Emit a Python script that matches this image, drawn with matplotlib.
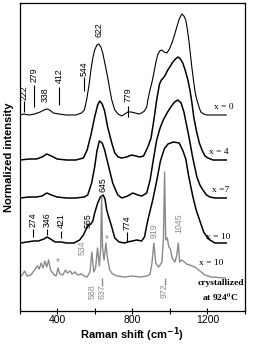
import matplotlib
matplotlib.use('Agg')
import matplotlib.pyplot as plt

BLACK = '#000000'
GRAY = '#8a8a8a'

plt.rcParams.update({
    'font.family': 'Liberation Sans',
    'font.size': 7.5,
    'axes.linewidth': 0.9,
})

# spectra: wavenumber (cm-1) and intensity, plus vertical offsets
wn0 = [205, 222, 250, 280, 310, 330, 345, 360, 380, 410, 450, 500, 530, 545, 557, 570, 580, 590, 600, 612,
       622, 633, 643, 655, 669, 680, 691, 707, 725, 744, 760, 776, 795, 815, 835, 850, 865, 877, 883, 893,
       904, 915, 925, 935, 946, 957, 970, 984, 998, 1011, 1025, 1037, 1050, 1064, 1075, 1085, 1093, 1101, 1110, 1117,
       1125, 1133, 1141, 1149, 1157, 1165, 1180, 1197, 1230, 1260, 1300]
int0 = [0, 1, 0, 1, 3, 5, 6, 5, 2, 1, 0, 0, 2, 5, 15, 30, 45, 57, 65, 70,
        71, 68, 62, 51, 38, 26, 15, 5, 1, -1, 1, 3, 3, 2, 1, 2, 4, 8, 15, 24,
        32, 42, 52, 60, 64, 65, 63, 62, 66, 72, 80, 88, 96, 101, 99, 95, 86, 75, 60, 48,
        36, 25, 17, 12, 7, 3, 1, 0, 0, 0, 0]

wn4 = [205, 250, 290, 320, 345, 370, 400, 450, 500, 540, 560, 580, 600, 616, 627, 640, 653, 669, 691, 707,
       725, 744, 770, 797, 820, 840, 860, 883, 900, 915, 930, 945, 955, 965, 976, 989, 1003, 1016, 1030, 1043,
       1056, 1069, 1083, 1096, 1107, 1117, 1128, 1144, 1157, 1171, 1187, 1203, 1230, 1300]
int4 = [0, 1, 1, 3, 6, 4, 1, 0, 0, 2, 10, 25, 43, 55, 59, 56, 49, 33, 17, 7,
        3, 2, 3, 5, 4, 3, 4, 13, 22, 40, 60, 76, 80, 82, 85, 90, 94, 98, 101, 103,
        101, 97, 89, 80, 70, 58, 42, 27, 17, 10, 4, 2, 0, 0]

wn7 = [205, 250, 290, 320, 345, 370, 400, 450, 500, 545, 563, 584, 600, 612, 625, 640, 653, 675, 696, 723,
       745, 775, 803, 830, 851, 877, 895, 912, 930, 948, 965, 985, 1005, 1025, 1043, 1060, 1075, 1090, 1105, 1120,
       1144, 1160, 1176, 1195, 1213, 1240, 1300]
int7 = [0, 1, 1, 2, 5, 3, 1, 0, 0, 1, 3, 15, 31, 47, 57, 55, 48, 31, 15, 3,
        0, 2, 5, 3, 2, 5, 18, 38, 58, 70, 78, 85, 91, 96, 98, 95, 86, 72, 58, 42,
        21, 13, 8, 3, 1, 0, 0]

wn10 = [205, 240, 274, 300, 330, 346, 365, 390, 421, 450, 490, 520, 540, 555, 568, 580, 590, 600, 616, 630,
        645, 655, 664, 678, 691, 707, 730, 760, 774, 800, 824, 850, 865, 883, 909, 930, 950, 970, 990, 1020,
        1050, 1070, 1085, 1100, 1123, 1140, 1160, 1180, 1205, 1240, 1300]
int10 = [0, 1, 2, 2, 4, 6, 4, 1, 1, 0, 0, 3, 8, 14, 18, 19, 22, 30, 40, 46,
         48, 44, 33, 24, 16, 5, 1, 0, 1, 2, 3, 2, 6, 23, 43, 62, 82, 94, 99, 101,
         100, 92, 84, 67, 46, 33, 22, 11, 4, 0, 0]

wn_cr = [205, 218, 227, 240, 260, 280, 295, 305, 315, 325, 335, 345, 355, 365, 380, 395, 405, 415, 430, 445,
         455, 470, 480, 495, 510, 530, 545, 560, 575, 585, 595, 605, 615, 625, 632, 637, 642, 650, 660, 668,
         680, 695, 720, 760, 800, 840, 880, 895, 905, 915, 925, 940, 948, 958, 966, 972, 978, 986, 995, 1003,
         1012, 1027, 1036, 1045, 1052, 1064, 1090, 1133, 1160, 1187, 1220, 1295]
int_cr = [1, 4, 7, 2, 3, 8, 12, 9, 15, 10, 17, 11, 18, 8, 4, 2, 10, 4, 3, 8,
          5, 7, 4, 6, 3, 4, 2, 1, 6, 26, 6, 10, 30, 12, 30, 81, 30, 18, 35, 20,
          8, 4, 2, 1, 2, 1, 2, 4, 15, 35, 15, 11, 13, 16, 40, 106, 38, 40, 31, 29,
          20, 16, 22, 35, 16, 18, 14, 11, 7, 3, 1, 0]

offsets = [196, 151, 113, 68]
series_names = ['x = 0', 'x = 4', 'x =7', 'x = 10']
offset_cr = 33

# peak labels (value, text height)
top_peaks = [222, 279, 338, 412, 544, 622, 779]
top_text_y = [211, 229, 209, 228, 235, 274, 209]
top_ticks = [222, 279, 412, 544, 779]
top_tick_lo = [199, 204, 206, 220, 194]
top_tick_hi = [210, 226, 224, 234, 205]

bot_peaks = [274, 346, 421, 565, 645, 774]
bot_text_y = [84, 84, 83, 83, 119, 81]
bot_ticks = [274, 346, 421, 774]
bot_tick_lo = [74, 76, 73, 69]
bot_tick_hi = [82, 82, 80, 79]

cr_up_peaks = [534, 919, 1045]
cr_up_y = [56, 73, 78]
cr_dn_peaks = [588, 637, 972]
cr_dn_y = [27, 27, 28]
cr_ticks = [637, 972]
cr_tick_lo = [25, 26]
stars_wn = [405, 662]
stars_y = [49, 72]

fig = plt.figure(figsize=(2.56, 3.44), dpi=100, facecolor='white')
ax = fig.add_axes([19.5 / 256, 33 / 344, 225.5 / 256, 308 / 344])

widths = [0.8, 1.1, 1.1, 1.1]
for (wn, inten), off, lw in zip([(wn0, int0), (wn4, int4), (wn7, int7), (wn10, int10)], offsets, widths):
    ax.plot(wn, [v + off for v in inten], color=BLACK, lw=lw)
ax.plot(wn_cr, [v + offset_cr for v in int_cr], color=GRAY, lw=1.0)

# series names on the right
name_x = [1288, 1262, 1268, 1256]
name_y = [204, 159, 121, 74]
for nm, xx, yy in zip(series_names, name_x, name_y):
    ax.text(xx, yy, nm, fontsize=6.8, family='Liberation Serif', ha='center', va='center')
ax.text(1220, 48, 'x = 10', fontsize=6.8, family='Liberation Serif', ha='center', va='center')
ax.text(1272, 28, 'crystallized', fontsize=6.8, family='Liberation Serif',
        fontweight='bold', ha='center', va='center')
ax.text(1268, 14, r'at 924$^{\mathbf{0}}$C', fontsize=6.8, family='Liberation Serif',
        fontweight='bold', ha='center', va='center', math_fontfamily='stix')

lab_kw = dict(rotation=90, fontsize=6.3, ha='center', va='bottom')
for p, yy in zip(top_peaks, top_text_y):
    ax.text(p, yy, str(p), color=BLACK, **lab_kw)
ax.vlines(top_ticks, top_tick_lo, top_tick_hi, color=BLACK, lw=0.8)
for p, yy in zip(bot_peaks, bot_text_y):
    ax.text(p, yy, str(p), color=BLACK, **lab_kw)
ax.vlines(bot_ticks, bot_tick_lo, bot_tick_hi, color=BLACK, lw=0.8)

for p, yy in zip(cr_up_peaks, cr_up_y):
    ax.text(p, yy, str(p), color=GRAY, **lab_kw)
for p, yy in zip(cr_dn_peaks, cr_dn_y):
    ax.text(p, yy, str(p), color=GRAY, rotation=90, fontsize=6.3, ha='center', va='top')
ax.vlines(cr_ticks, cr_tick_lo, offset_cr, color=GRAY, lw=1.0)
for sx, sy in zip(stars_wn, stars_y):
    ax.text(sx, sy, '*', color=GRAY, fontsize=7, ha='center', va='center')

ax.set_xlim(200, 1400)
ax.set_ylim(0, 308)
ax.set_xticks([400, 800, 1200])
ax.set_xticks([200, 600, 1000, 1400], minor=True)
ax.tick_params(axis='x', which='both', direction='inout', length=4, width=0.8, pad=1.0, labelsize=7.5)
ax.set_yticks([])
ax.set_xlabel(r'Raman shift (cm$^{\mathbf{-1}}$)', fontsize=8.0, fontweight='bold', labelpad=0.5,
              math_fontfamily='dejavusans')
ax.set_ylabel('Normalized intensity', fontsize=8.0, fontweight='bold', labelpad=4)

fig.savefig('out.png', dpi=100, facecolor='white')
